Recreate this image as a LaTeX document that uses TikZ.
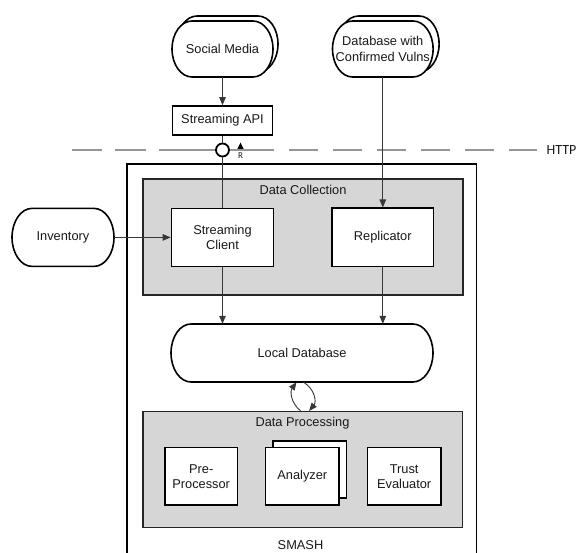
\documentclass[tikz,border=0pt]{standalone}
\usepackage{fontspec}
\setmainfont{Liberation Sans}
\newfontfamily\calibfont{Carlito}
\usetikzlibrary{arrows.meta}
\definecolor{boxgray}{RGB}{214,214,214}
\definecolor{linegray}{RGB}{55,55,55}
\definecolor{dashgray}{RGB}{150,150,150}
\definecolor{txt}{RGB}{25,25,25}
% terminator outline: centre x, centre y, half width, half height
\newcommand\mkterm[4]{%
  \draw[shapeline] (#1-#3+20,#2-#4) -- (#1+#3-20,#2-#4)
    arc[start angle=90,end angle=-90,x radius=20pt,y radius=#4pt]
    -- (#1-#3+20,#2+#4)
    arc[start angle=270,end angle=90,x radius=20pt,y radius=#4pt] -- cycle;}
\begin{document}
\begin{tikzpicture}[x=1pt,y=-1pt,
  font=\fontsize{12.8}{15}\selectfont,
  every node/.style={text=txt},
  lbl/.style={inner sep=0pt, align=center},
  shapeline/.style={draw=black, line width=1.6pt, fill=white},
  rectbox/.style={draw=black, line width=1.6pt, fill=white, align=center, inner sep=0pt},
  graybox/.style={draw=black!85, line width=1.6pt, fill=boxgray, inner sep=0pt},
  termtext/.style={inner sep=0pt, align=center},
  conn/.style={draw=linegray, line width=0.9pt},
  arr/.style={conn, -{Triangle[length=8pt,width=6.5pt]}},
  httpline/.style={draw=dashgray, line width=1.3pt},
]
\useasboundingbox (0,0) rectangle (579,553);

% containers
\node[graybox, minimum width=319.7pt, minimum height=116.3pt] (dc) at (302.85,237.15) {};
\node[graybox, minimum width=319.8pt, minimum height=116pt] (dp) at (302.6,469.7) {};
\draw[line width=1.6pt] (127,556) -- (127,164) -- (476.5,164) -- (476.5,556);
\node[lbl] (dcl) at (303,190) {Data Collection};
\node[lbl] (dpl) at (302.5,423) {Data Processing};
\node[lbl] (smash) at (300.5,545) {SMASH};

% stacked terminators
\begin{scope}[xshift=5pt,yshift=5pt]\mkterm{222.5}{49}{50.5}{28}\end{scope}
\mkterm{222.5}{49}{50.5}{28}
\node[termtext, minimum width=101pt, minimum height=56pt] (sm) at (222.5,49) {Social Media};

\begin{scope}[xshift=6pt,yshift=5pt]\mkterm{382.8}{49}{50.3}{28}\end{scope}
\mkterm{382.8}{49}{50.3}{28}
\node[termtext, minimum width=100.6pt, minimum height=56pt, font=\fontsize{12.8}{16}\selectfont] (db) at (382.8,49) {Database with\\Confirmed Vulns};

\mkterm{63}{237.4}{51}{29}
\node[termtext, minimum width=102pt, minimum height=58pt] (inv) at (63,237.4) {Inventory};

\mkterm{302}{353}{131}{29}
\node[termtext, minimum width=262pt, minimum height=58pt] (ldb) at (302,353) {Local Database};

% boxes
\node[rectbox, minimum width=100pt, minimum height=29pt] (sapi) at (222.5,120.5) {Streaming API};
\node[rectbox, minimum width=102pt, minimum height=58pt] (sc) at (222.5,237.4) {Streaming\\Client};
\node[rectbox, minimum width=101.6pt, minimum height=58.4pt] (repl) at (382.8,237.5) {Replicator};
\node[rectbox, minimum width=72.5pt, minimum height=57.5pt] (pre) at (201.2,476.3) {Pre-\\Processor};
\node[rectbox, minimum width=73.3pt, minimum height=57.5pt] (anback) at (309.8,469.5) {};
\node[rectbox, minimum width=73.3pt, minimum height=57.5pt] (an) at (302.3,476.3) {Analyzer};
\node[rectbox, minimum width=73.5pt, minimum height=57.5pt] (trust) at (404.2,476.3) {Trust\\Evaluator};

% HTTP boundary
\node[circle, draw=black, line width=1.8pt, fill=white, minimum size=13pt, inner sep=0pt] (iface) at (222.5,150) {};
\coordinate (httpL) at (71.5,150);
\coordinate (httpR) at (537,150);
\draw[httpline, dash pattern=on 56pt off 13pt on 31pt off 13pt on 31pt off 20pt] (iface.west) -- (httpL);
\draw[httpline, dash pattern=on 44pt off 15pt on 29pt off 15pt on 29pt off 15pt on 29pt off 15pt on 29pt off 15pt on 29pt off 15pt on 29pt off 15pt] (iface.east) -- (httpR);
\fill[black] (237.3,149) -- (243.7,149) -- (240.5,142.5) -- cycle;
\node[inner sep=0pt, font=\calibfont\fontsize{9}{10}\selectfont] (rlab) at (240.5,156) {R};
\node[anchor=west, inner sep=0pt, font=\calibfont\fontsize{14}{16}\selectfont] (http) at (546.5,150) {HTTP};

% connectors
\draw[arr] (sm) -- (sapi);
\draw[conn] (sapi) -- (iface);
\draw[conn] (iface) -- (sc);
\draw[arr] (db) -- (repl);
\draw[arr] (inv) -- (sc);
\draw[arr] (sc.south) -- (sc.south |- ldb.north);
\draw[arr] (repl.south) -- (repl.south |- ldb.north);
\draw[arr] ([xshift=-2pt]dp.north) .. controls ([xshift=-12pt,yshift=8pt]dp.north) and ([xshift=-12pt,yshift=-9pt]ldb.south) .. ([xshift=-5.5pt]ldb.south);
\draw[arr] ([xshift=1.5pt]ldb.south) .. controls ([xshift=13pt,yshift=-7pt]ldb.south) and ([xshift=14pt,yshift=9pt]dp.north) .. ([xshift=6.5pt]dp.north);
\end{tikzpicture}
\end{document}
